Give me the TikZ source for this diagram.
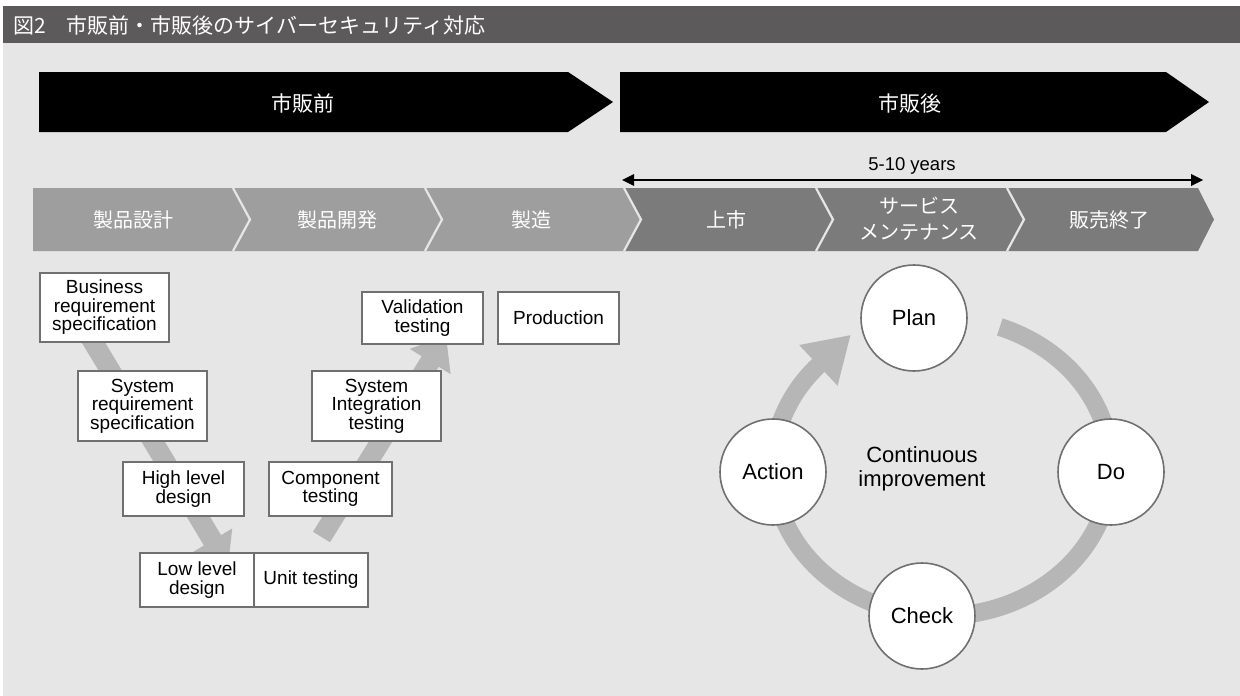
\documentclass[tikz,border=0pt]{standalone}
\usepackage{fontspec}
\setmainfont{Liberation Sans}
\newfontfamily\jpfont{Noto Sans CJK JP}
\usetikzlibrary{calc}
\definecolor{bgc}{HTML}{E6E6E6}
\definecolor{titlec}{HTML}{5C5A5B}
\definecolor{chevlight}{HTML}{9D9E9D}
\definecolor{chevdark}{HTML}{7B7B7B}
\definecolor{bandc}{HTML}{B5B6B5}
\definecolor{boxline}{HTML}{707070}
\begin{document}
\begin{tikzpicture}[x=1pt,y=-1pt,
  jptxt/.style={text=white, font=\jpfont\fontsize{20}{25}\selectfont, align=center, inner sep=0pt},
  vbox/.style={draw=boxline, line width=1.6pt, fill=white, align=center, font=\fontsize{19}{18.5}\selectfont, inner sep=0pt},
  pdca/.style={circle, draw=boxline, line width=1.6pt, fill=white, minimum size=106pt, inner sep=0pt, font=\fontsize{22}{24}\selectfont},
  bandline/.style={draw=bandc, line width=20pt},
  ringline/.style={draw=bandc, line width=18pt},
  sepline/.style={draw=bgc, line width=2.2pt},
  chevL/.style={fill=chevlight},
  chevD/.style={fill=chevdark}]
\useasboundingbox (0,0) rectangle (1240,696);
\fill[white] (0,0) rectangle (1240,696);
\fill[bgc] (3,43) rectangle (1240,696);
\fill[titlec] (3,6) rectangle (1240,43);
\node[anchor=west, text=white, inner sep=0pt, font=\jpfont\fontsize{21}{24}\selectfont] (title) at (13,25) {図2　市販前・市販後のサイバーセキュリティ対応};

% phase arrows
\fill[black] (39,72) -- (568,72) -- (613,102) -- (568,132) -- (39,132) -- cycle;
\fill[black] (620,72) -- (1166,72) -- (1209,102) -- (1166,132) -- (620,132) -- cycle;
\node[jptxt, font=\jpfont\fontsize{21}{24}\selectfont] (pre) at (303,103) {市販前};
\node[jptxt, font=\jpfont\fontsize{21}{24}\selectfont] (post) at (910,103) {市販後};

% duration arrow
\coordinate (dl) at (622,180);
\coordinate (dr) at (1203,180);
\draw[line width=2pt] ($(dl)+(10,0)$) -- ($(dr)+(-10,0)$);
\fill[black] (dl) -- ++(12,-6) -- ++(0,12) -- cycle;
\fill[black] (dr) -- ++(-12,-6) -- ++(0,12) -- cycle;
\node[anchor=base, inner sep=0pt, font=\fontsize{18.5}{20}\selectfont] (yrs) at (912,170) {5-10 years};

% chevron row
\path[chevL] (33,188) -- (233,188) -- (250,219.5) -- (233,251) -- (33,251) -- cycle;
\path[chevL] (233,188) -- (425,188) -- (442,219.5) -- (425,251) -- (233,251) -- (250,219.5) -- cycle;
\path[chevL] (425,188) -- (624,188) -- (641,219.5) -- (624,251) -- (425,251) -- (442,219.5) -- cycle;
\path[chevD] (624,188) -- (816,188) -- (833,219.5) -- (816,251) -- (624,251) -- (641,219.5) -- cycle;
\path[chevD] (816,188) -- (1007,188) -- (1024,219.5) -- (1007,251) -- (816,251) -- (833,219.5) -- cycle;
\path[chevD] (1007,188) -- (1198,188) -- (1214,219.5) -- (1198,251) -- (1007,251) -- (1024,219.5) -- cycle;
\foreach \b in {233,425,624,816,1007}{
  \draw[sepline] (\b,188) -- (\b+17,219.5) -- (\b,251);
}
\node[jptxt] (c1) at (133,220) {製品設計};
\node[jptxt] (c2) at (337,220) {製品開発};
\node[jptxt] (c3) at (531,220) {製造};
\node[jptxt] (c4) at (726,220) {上市};
\node[jptxt, font=\jpfont\fontsize{20}{26}\selectfont] (c5) at (919,219) {サービス\\メンテナンス};
\node[jptxt] (c6) at (1109,220) {販売終了};

% V-model bands
\coordinate (dS) at (69,302);
\coordinate (dT) at (228,566);
\coordinate (dB) at ($(dT)!30pt!(dS)$);
\draw[bandline] (dS) -- ($(dT)!29pt!(dS)$);
\fill[bandc] ($(dB)!23pt!90:(dT)$) -- (dT) -- ($(dB)!23pt!-90:(dT)$) -- cycle;
\coordinate (uS) at (321.5,537);
\coordinate (uT) at (446,336);
\coordinate (uB) at ($(uT)!30pt!(uS)$);
\draw[bandline] (uS) -- ($(uT)!29pt!(uS)$);
\fill[bandc] ($(uB)!24pt!90:(uT)$) -- (uT) -- ($(uB)!24pt!-90:(uT)$) -- cycle;

% V-model boxes
\node[vbox, minimum width=129pt, minimum height=69pt] (brs) at (104.5,307.5) {Business\\requirement\\specification};
\node[vbox, minimum width=129pt, minimum height=70pt] (srs) at (142.5,406) {System\\requirement\\specification};
\node[vbox, minimum width=121pt, minimum height=54pt] (hld) at (183.5,489) {High level\\design};
\node[vbox, minimum width=114pt, minimum height=54pt] (lld) at (197,580) {Low level\\design};
\node[vbox, minimum width=114pt, minimum height=54pt] (ut) at (311,580) {Unit testing};
\node[vbox, minimum width=123pt, minimum height=54pt] (ct) at (330.5,489) {Component\\testing};
\node[vbox, minimum width=129pt, minimum height=70pt] (sit) at (376.5,406) {System\\Integration\\testing};
\node[vbox, minimum width=121pt, minimum height=52pt] (vt) at (422.5,318) {Validation\\testing};
\node[vbox, minimum width=121pt, minimum height=52pt] (prod) at (558.5,318) {Production};

% PDCA ring
\coordinate (rc) at (942,467);
\draw[ringline] (rc) ++(-70:169 and 149) arc[start angle=-70, end angle=2, x radius=169, y radius=149];
\draw[ringline] (rc) ++(-2:169 and 149) arc[start angle=-2, end angle=93, x radius=169, y radius=149];
\draw[ringline] (rc) ++(90:169 and 149) arc[start angle=90, end angle=182, x radius=169, y radius=149];
\draw[ringline] (rc) ++(178:169 and 149) arc[start angle=178, end angle=224, x radius=169, y radius=149];
\coordinate (rB) at (818.4,365.4);
\coordinate (rT) at (850.4,335.2);
\fill[bandc] ($(rB)!28pt!90:(rT)$) -- (rT) -- ($(rB)!28pt!-90:(rT)$) -- cycle;

\node[pdca] (plan) at (914,318) {Plan};
\node[pdca] (do) at (1111,472) {Do};
\node[pdca] (check) at (922,616) {Check};
\node[pdca] (action) at (773,472) {Action};
\node[align=center, inner sep=0pt, font=\fontsize{22}{24}\selectfont] (ci) at (922,469) {Continuous\\improvement};
\end{tikzpicture}
\end{document}
